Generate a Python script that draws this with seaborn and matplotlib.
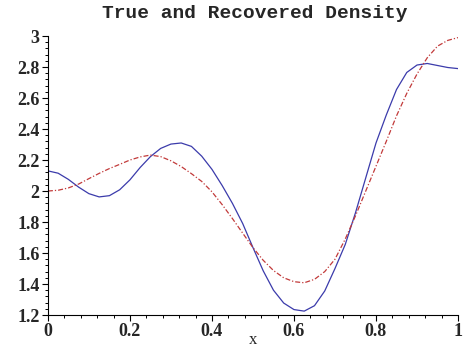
import numpy as np
import pandas as pd
import seaborn as sns
import matplotlib.pyplot as plt
from matplotlib.ticker import MultipleLocator

# values
x_vals = [0.000, 0.025, 0.050, 0.075, 0.100, 0.125, 0.150, 0.175, 0.200, 0.225,
          0.250, 0.275, 0.300, 0.325, 0.350, 0.375, 0.400, 0.425, 0.450, 0.475,
          0.500, 0.525, 0.550, 0.575, 0.600, 0.625, 0.650, 0.675, 0.700, 0.725,
          0.750, 0.775, 0.800, 0.825, 0.850, 0.875, 0.900, 0.925, 0.950, 0.975,
          1.000]
true_density = [2.13, 2.115, 2.075, 2.025, 1.983, 1.962, 1.97, 2.008, 2.072, 2.152,
                2.222, 2.275, 2.303, 2.31, 2.288, 2.225, 2.14, 2.035, 1.92, 1.79,
                1.635, 1.485, 1.36, 1.277, 1.235, 1.225, 1.26, 1.355, 1.5, 1.655,
                1.86, 2.085, 2.31, 2.49, 2.655, 2.765, 2.813, 2.823, 2.81, 2.797,
                2.79]
recovered_density = [2.0, 2.005, 2.02, 2.045, 2.08, 2.114, 2.145, 2.172, 2.2, 2.22,
                     2.232, 2.222, 2.195, 2.158, 2.112, 2.062, 1.995, 1.912, 1.822, 1.728,
                     1.635, 1.553, 1.487, 1.44, 1.415, 1.408, 1.43, 1.48, 1.56, 1.69,
                     1.84, 2.0, 2.16, 2.32, 2.485, 2.63, 2.755, 2.86, 2.935, 2.972,
                     2.99]

x_ticks = [0, 0.2, 0.4, 0.6, 0.8, 1]
x_tick_labels = ["0", "0.2", "0.4", "0.6", "0.8", "1"]
y_ticks = [1.2, 1.4, 1.6, 1.8, 2, 2.2, 2.4, 2.6, 2.8, 3]
y_tick_labels = ["1.2", "1.4", "1.6", "1.8", "2", "2.2", "2.4", "2.6", "2.8", "3"]

df = pd.DataFrame({"x": x_vals, "true": true_density, "recovered": recovered_density})

sns.set_theme(style="ticks")
plt.rcParams["font.family"] = ["Liberation Serif", "DejaVu Serif"]

fig = plt.figure(figsize=(4.65, 3.5), dpi=100)
ax = fig.add_axes([0.103, 0.1, 0.882, 0.797])

sns.lineplot(data=df, x="x", y="true", ax=ax, color="#3b3bab", linewidth=0.9)
sns.lineplot(data=df, x="x", y="recovered", ax=ax, color="#c23a3a", linewidth=0.9,
             linestyle=(0, (4, 1.6, 1, 1.6)))

ax.set_xlim(0, 1)
ax.set_ylim(1.2, 3.0)
ax.set_xticks(x_ticks)
ax.set_xticklabels(x_tick_labels, fontsize=13, fontweight="bold")
ax.set_yticks(y_ticks)
ax.set_yticklabels(y_tick_labels, fontsize=13, fontweight="bold")
ax.xaxis.set_minor_locator(MultipleLocator(0.04))
ax.yaxis.set_minor_locator(MultipleLocator(0.04))
ax.tick_params(which="major", length=4, width=0.8, color="black", pad=2)
ax.tick_params(which="minor", length=2.5, width=0.7, color="black")

for side in ["top", "right"]:
    ax.spines[side].set_visible(False)
for side in ["left", "bottom"]:
    ax.spines[side].set_color("black")
    ax.spines[side].set_linewidth(0.8)

ax.set_xlabel("x", fontsize=12, labelpad=-6)
ax.set_ylabel("")
fig.suptitle("True and Recovered Density", x=0.548, y=0.985, fontsize=14,
             fontweight="bold", family=["Liberation Mono", "DejaVu Sans Mono"])

fig.savefig("out.png", dpi=100)
